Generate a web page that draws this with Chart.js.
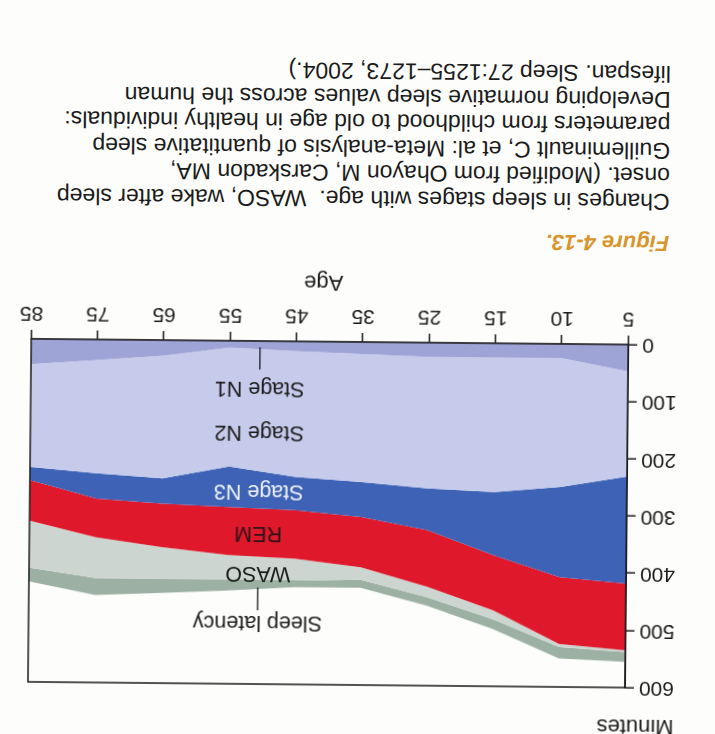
<!DOCTYPE html>
<html lang="en">
<head>
<meta charset="UTF-8">
<title>Figure 4-13 – Sleep stages with age</title>
<script src="https://cdn.jsdelivr.net/npm/chart.js@4"></script>
<style>
  * { box-sizing: border-box; margin: 0; padding: 0; }
  html, body { width: 715px; height: 734px; overflow: hidden; background: #fdfdfc; }
  /* the scanned page is upside down (and a hair crooked), so the whole sheet is turned */
  .page { position: absolute; left: 0; top: 0; width: 715px; height: 734px;
          transform: rotate(180.55deg); transform-origin: 50% 50%;
          font-family: "Liberation Sans", Arial, sans-serif; color: #1b1b1b; }
  #plot { position: absolute; left: 0; top: 0; }
  .caption { position: absolute; left: 47px; top: 481px; font-size: 23px; line-height: 25.5px; white-space: pre; }
  .caption .fig { font-size: 22px; line-height: 26px; font-style: italic; font-weight: bold; color: #d8952c; margin-bottom: 16px; }
</style>
</head>
<body>
<div class="page">
  <canvas id="plot" width="715" height="470"></canvas>
  <div class="caption"><div class="fig">Figure 4-13.</div><div>Changes in sleep stages with age.  WASO, wake after sleep
onset. (Modified from Ohayon M, Carskadon MA,
Guilleminault C, et al: Meta-analysis of quantitative sleep
parameters from childhood to old age in healthy individuals:
Developing normative sleep values across the human
lifespan. Sleep 27:1255–1273, 2004.)</div></div>
</div>

<script>
// ---------- data (minutes per stage, stacked from 0) ----------
const AGES          = ['5', '10', '15', '25', '35', '45', '55', '65', '75', '85'];
const STAGE_N1      = [47, 25, 25, 25, 21, 17, 12, 27, 36, 44];
const STAGE_N2      = [184, 225, 235, 230, 224, 220, 208, 215, 198, 180];
const STAGE_N3      = [187, 158, 111, 73, 61, 58, 71, 44, 44, 23];
const REM           = [117, 117, 96, 99, 88, 85, 84, 76, 68, 71];
const WASO          = [3, 5, 16, 18, 22, 38, 43, 56, 71, 82];
const SLEEP_LATENCY = [17, 20, 17, 15, 14, 12, 19, 24, 30, 24];
const Y_MAX  = 600;
const Y_STEP = 100;

// ---------- style ----------
const INK  = '#1b1b1b';
const FONT = "'Liberation Sans', Arial, sans-serif";
Chart.defaults.font.family = FONT;
const COLORS = {
  n1:  '#9fa4d6',
  n2:  '#c6cbec',
  n3:  '#3e63b6',
  rem: '#e0182c',
  waso:'#cdd5d0',
  lat: '#9db0a4',
};

function area(label, data, color, first) {
  return {
    label, data,
    backgroundColor: color,
    borderWidth: 0,
    pointRadius: 0,
    tension: 0,
    fill: first ? 'origin' : '-1',
  };
}

// in-plot labels: category position (fractional index) and minute value
const LABEL_AT = 5.55;
const BAND_LABELS = [
  { text: 'Stage N1',      at: 82,  color: INK },
  { text: 'Stage N2',      at: 159, color: INK },
  { text: 'Stage N3',      at: 263, color: '#eef1fb' },
  { text: 'REM',           at: 336, color: '#2a1416' },
  { text: 'WASO',          at: 405, color: INK },
  { text: 'Sleep latency', at: 492, color: INK },
];
const LEADERS = [[11, 50], [431, 471]];

const annotate = {
  id: 'annotate',
  afterDatasetsDraw(chart) {
    const { ctx, chartArea: a, scales: { x, y } } = chart;
    ctx.save();
    ctx.strokeStyle = INK;
    ctx.lineWidth = 1.5;
    ctx.strokeRect(a.left, a.top, a.right - a.left, a.bottom - a.top);

    const px = x.getPixelForValue(LABEL_AT);
    ctx.font = `21.5px ${FONT}`;
    ctx.textAlign = 'center';
    ctx.textBaseline = 'middle';
    for (const l of BAND_LABELS) {
      ctx.fillStyle = l.color;
      ctx.fillText(l.text, px, y.getPixelForValue(l.at));
    }
    ctx.lineWidth = 1.3;
    for (const [v0, v1] of LEADERS) {
      ctx.beginPath();
      ctx.moveTo(px, y.getPixelForValue(v0));
      ctx.lineTo(px, y.getPixelForValue(v1));
      ctx.stroke();
    }

    // axis names
    ctx.fillStyle = INK;
    ctx.font = `22px ${FONT}`;
    ctx.textAlign = 'left';
    ctx.fillText('Minutes', a.left - 49, a.top - 38);
    ctx.textAlign = 'center';
    ctx.fillText('Age', x.getPixelForValue(4.6), a.bottom + 60);
    ctx.restore();
  }
};

const tickGrid = { display: true, drawOnChartArea: false, drawTicks: true, tickLength: 9, color: INK, lineWidth: 1.5 };

function draw() {
  new Chart(document.getElementById('plot'), {
    type: 'line',
    data: {
      labels: AGES,
      datasets: [
        area('Stage N1', STAGE_N1, COLORS.n1, true),
        area('Stage N2', STAGE_N2, COLORS.n2),
        area('Stage N3', STAGE_N3, COLORS.n3),
        area('REM', REM, COLORS.rem),
        area('WASO', WASO, COLORS.waso),
        area('Sleep latency', SLEEP_LATENCY, COLORS.lat),
      ],
    },
    options: {
      responsive: false,
      animation: false,
      layout: { padding: { top: 49, right: 31, bottom: 30, left: 0 } },
      plugins: { legend: { display: false }, tooltip: { enabled: false }, title: { display: false } },
      scales: {
        x: {
          offset: false,
          grid: tickGrid,
          border: { display: true, color: INK, width: 1.5 },
          ticks: { color: INK, font: { family: FONT, size: 21 }, padding: 5, maxRotation: 0, autoSkip: false },
          afterFit: s => { s.height = 48; },
        },
        y: {
          stacked: true,
          min: 0, max: Y_MAX,
          grid: tickGrid,
          border: { display: true, color: INK, width: 1.5 },
          ticks: { stepSize: Y_STEP, color: INK, font: { family: FONT, size: 21 }, padding: 5 },
          afterFit: s => { s.width = 87; },
        },
      },
    },
    plugins: [annotate],
  });
}

document.fonts.load("20px 'Liberation Sans'").then(draw, draw);
</script>
</body>
</html>
